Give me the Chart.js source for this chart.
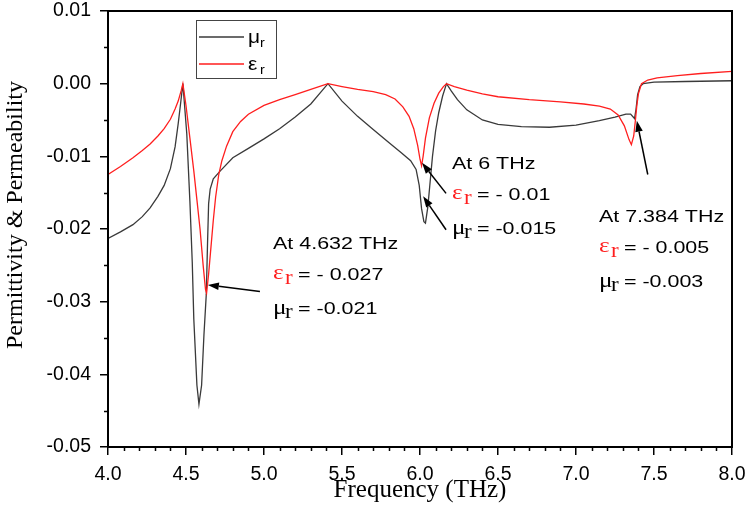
<!DOCTYPE html>
<html>
<head>
<meta charset="utf-8">
<script src="https://cdn.jsdelivr.net/npm/chart.js@4.4.1/dist/chart.umd.min.js"></script>
<style>
  body { margin: 0; background: #fff; }
  #wrap { width: 749px; height: 511px; position: relative; }
</style>
</head>
<body>
<div id="wrap"><canvas id="permChart"></canvas></div>
<script>
// mu_r (black)
var muFreq = [4.00, 4.08, 4.16, 4.22, 4.27, 4.32, 4.36, 4.40, 4.43, 4.45, 4.465, 4.48,
              4.505, 4.525, 4.54, 4.55, 4.57, 4.583, 4.60, 4.615, 4.63, 4.638, 4.645, 4.655, 4.675,
              4.72, 4.80, 4.90, 5.00, 5.10, 5.20, 5.30, 5.41,
              5.50, 5.60, 5.70, 5.80, 5.88, 5.94, 5.975, 5.995, 6.01, 6.025, 6.035, 6.05, 6.065, 6.08, 6.10, 6.12, 6.145, 6.17,
              6.20, 6.24, 6.30, 6.40, 6.50, 6.65, 6.83, 7.00, 7.15, 7.25, 7.32, 7.35, 7.375, 7.385, 7.395, 7.41, 7.43,
              7.50, 7.70, 8.00];
var muVals = [-0.0213, -0.0204, -0.0194, -0.0183, -0.0171, -0.0155, -0.0140, -0.0117, -0.0087, -0.0055, -0.0028, 0.0000,
              -0.0069, -0.0162, -0.0245, -0.0324, -0.0415, -0.0441, -0.0415, -0.0346, -0.0290, -0.0220, -0.0165, -0.0145, -0.0131,
              -0.0120, -0.0102, -0.0089, -0.0076, -0.0062, -0.0046, -0.0028, 0.0000,
              -0.0024, -0.0045, -0.0063, -0.0081, -0.0095, -0.0106, -0.0118, -0.0140, -0.0172, -0.0190, -0.0192, -0.0170, -0.0135, -0.0100, -0.0065, -0.0040, -0.0017, 0.0000,
              -0.0010, -0.0022, -0.0036, -0.0050, -0.0056, -0.0059, -0.0060, -0.0057, -0.0051, -0.0046, -0.0042, -0.0042, -0.0048, -0.0035, -0.0015, -0.0004, 0.0000,
              0.0002, 0.0003, 0.0004];

// eps_r (red)
var epsFreq = [4.00, 4.08, 4.16, 4.22, 4.27, 4.32, 4.36, 4.40, 4.43, 4.45, 4.47, 4.48,
               4.50, 4.525, 4.55, 4.57, 4.59, 4.61, 4.625, 4.632, 4.645, 4.66, 4.675, 4.69, 4.71, 4.73, 4.76, 4.80, 4.85, 4.90,
               5.00, 5.10, 5.20, 5.30, 5.41,
               5.50, 5.60, 5.70, 5.78, 5.84, 5.89, 5.93, 5.96, 5.985, 6.00, 6.01, 6.02, 6.035, 6.06, 6.09, 6.12, 6.15, 6.17,
               6.22, 6.30, 6.40, 6.50, 6.70, 6.90, 7.05, 7.15, 7.22, 7.27, 7.31, 7.34, 7.355, 7.37, 7.38, 7.39, 7.40, 7.42,
               7.46, 7.52, 7.65, 7.80, 8.00];
var epsVals = [-0.0125, -0.0114, -0.0102, -0.0092, -0.0083, -0.0072, -0.0062, -0.0049, -0.0035, -0.0024, -0.0009, 0.0000,
               -0.0030, -0.0075, -0.0120, -0.0160, -0.0200, -0.0250, -0.0283, -0.0288, -0.0262, -0.0225, -0.0188, -0.0156, -0.0125, -0.0106, -0.0086, -0.0066, -0.0052, -0.0042,
               -0.0030, -0.0022, -0.0015, -0.0008, 0.0000,
               -0.0004, -0.0008, -0.0011, -0.0015, -0.0021, -0.0032, -0.0045, -0.0062, -0.0085, -0.0104, -0.0113, -0.0100, -0.0075, -0.0047, -0.0027, -0.0013, -0.0004, 0.0000,
               -0.0004, -0.0009, -0.0014, -0.0018, -0.0022, -0.0025, -0.0028, -0.0031, -0.0035, -0.0043, -0.0058, -0.0077, -0.0084, -0.0072, -0.0052, -0.0030, -0.0014, 0.0000,
               0.0005, 0.0008, 0.0011, 0.0014, 0.0017];

// text callouts, anchored in data units (left edge, first baseline)
var notes = [
  {x: 5.058, y: -0.0228, title: 'At 4.632 THz', eps: '= - 0.027', mu: '= -0.021'},
  {x: 6.205, y: -0.0118, title: 'At 6 THz', eps: '= - 0.01', mu: '= -0.015'},
  {x: 7.147, y: -0.0190, title: 'At 7.384 THz', eps: '= - 0.005', mu: '= -0.003'}
];
// arrows: tail x, tail y, head x, head y
var arrows = [
  [4.974, -0.0286, 4.640, -0.0277],
  [6.167, -0.0151, 6.013, -0.0109],
  [6.167, -0.0201, 6.020, -0.0155],
  [7.460, -0.0125, 7.390, -0.0051]
];

var red = 'rgb(255, 30, 30)';
var sans = '"Liberation Sans", Arial, sans-serif';
var serif = '"Liberation Serif", "Times New Roman", serif';

function pairs(xs, ys) {
  var out = [];
  for (var i = 0; i < xs.length; i++) out.push({x: xs[i], y: ys[i]});
  return out;
}

function stretchText(ctx, str, x, y, font, color, sx) {
  ctx.save();
  ctx.translate(x, y);
  ctx.scale(sx, 1);
  ctx.font = font;
  ctx.fillStyle = color;
  ctx.textAlign = 'left';
  ctx.textBaseline = 'alphabetic';
  ctx.fillText(str, 0, 0);
  ctx.restore();
}

var extras = {
  id: 'extras',
  afterDraw: function(chart) {
    var ctx = chart.ctx;
    var a = chart.chartArea;
    var xs = chart.scales.x, ys = chart.scales.y;
    ctx.save();

    // frame
    ctx.strokeStyle = '#000';
    ctx.lineWidth = 2;
    ctx.strokeRect(a.left, a.top, a.right - a.left, a.bottom - a.top);

    // minor ticks
    ctx.lineWidth = 1.5;
    ctx.beginPath();
    for (var i = 1; i < 40; i++) {
      if (i % 5 === 0) continue;
      var px = Math.round(xs.getPixelForValue(4 + i * 0.1)) + 0.5;
      ctx.moveTo(px, a.bottom);
      ctx.lineTo(px, a.bottom + 4);
    }
    for (var j = 0; j < 6; j++) {
      var py = Math.round(ys.getPixelForValue(-0.045 + j * 0.01)) + 0.5;
      ctx.moveTo(a.left - 4, py);
      ctx.lineTo(a.left, py);
    }
    ctx.stroke();

    // y title
    ctx.save();
    ctx.translate(22, (a.top + a.bottom) / 2 - 14);
    ctx.rotate(-Math.PI / 2);
    ctx.font = '24px ' + serif;
    ctx.fillStyle = '#000';
    ctx.textAlign = 'center';
    ctx.textBaseline = 'alphabetic';
    ctx.fillText('Permittivity & Permeability', 0, 0);
    ctx.restore();

    // legend box
    var lx = a.left + 88, ly = a.top + 9;
    ctx.strokeStyle = '#444';
    ctx.lineWidth = 1;
    ctx.strokeRect(lx + 0.5, ly + 0.5, 80, 58);
    chart.data.datasets.forEach(function(ds, k) {
      var yy = ly + 17 + k * 27;
      ctx.strokeStyle = ds.borderColor;
      ctx.lineWidth = 1.4;
      ctx.beginPath();
      ctx.moveTo(lx + 3, yy);
      ctx.lineTo(lx + 48, yy);
      ctx.stroke();
      stretchText(ctx, ds.label.charAt(0), lx + 52, yy + 6, '19px ' + sans, '#000', 1.1);
      stretchText(ctx, ds.label.slice(1), lx + 64, yy + 10, '13px ' + sans, '#000', 1.1);
    });

    // arrows
    ctx.strokeStyle = '#000';
    ctx.fillStyle = '#000';
    ctx.lineWidth = 1.5;
    arrows.forEach(function(ar) {
      var x1 = xs.getPixelForValue(ar[0]), y1 = ys.getPixelForValue(ar[1]);
      var x2 = xs.getPixelForValue(ar[2]), y2 = ys.getPixelForValue(ar[3]);
      var ang = Math.atan2(y2 - y1, x2 - x1);
      var len = 11, half = 3.8;
      var bx = x2 - len * Math.cos(ang), by = y2 - len * Math.sin(ang);
      ctx.beginPath();
      ctx.moveTo(x1, y1);
      ctx.lineTo(bx, by);
      ctx.stroke();
      ctx.beginPath();
      ctx.moveTo(x2, y2);
      ctx.lineTo(bx + half * Math.sin(ang), by - half * Math.cos(ang));
      ctx.lineTo(bx - half * Math.sin(ang), by + half * Math.cos(ang));
      ctx.closePath();
      ctx.fill();
    });

    // callout text
    notes.forEach(function(n) {
      var x0 = xs.getPixelForValue(n.x), y0 = ys.getPixelForValue(n.y);
      stretchText(ctx, n.title, x0, y0, '16.5px ' + sans, '#000', 1.3);
      var y1 = y0 + 31;
      stretchText(ctx, '\u03b5', x0, y1 - 1, '22px ' + serif, red, 1.15);
      stretchText(ctx, 'r', x0 + 12, y1 + 4, '20px ' + serif, red, 1.15);
      stretchText(ctx, n.eps, x0 + 25, y1, '16.5px ' + sans, '#000', 1.3);
      var y2 = y0 + 65;
      stretchText(ctx, '\u03bc', x0, y2, '22px ' + serif, '#000', 1.15);
      stretchText(ctx, 'r', x0 + 12, y2 + 4, '20px ' + serif, '#000', 1.15);
      stretchText(ctx, n.mu, x0 + 25, y2, '16.5px ' + sans, '#000', 1.3);
    });

    ctx.restore();
  }
};

var ctx = document.getElementById('permChart').getContext('2d');
var myChart = new Chart(ctx, {
  type: 'line',
  data: {
    datasets: [{
      label: '\u03bcr',
      data: pairs(muFreq, muVals),
      borderColor: '#3a3a3a',
      borderWidth: 1.3,
      pointRadius: 0,
      tension: 0,
      order: 2
    }, {
      label: '\u03b5r',
      data: pairs(epsFreq, epsVals),
      borderColor: red,
      borderWidth: 1.3,
      pointRadius: 0,
      tension: 0,
      order: 1
    }]
  },
  options: {
    responsive: true,
    maintainAspectRatio: false,
    animation: false,
    events: [],
    layout: { padding: { top: 0, right: 17, left: 0, bottom: 0 } },
    plugins: {
      legend: { display: false },
      tooltip: { enabled: false }
    },
    scales: {
      x: {
        type: 'linear',
        min: 4,
        max: 8,
        border: { display: false },
        grid: { drawOnChartArea: false, drawTicks: true, tickLength: 8, color: '#000', lineWidth: 1.5 },
        ticks: {
          stepSize: 0.5,
          padding: 8,
          color: '#000',
          font: { family: sans, size: 19.5 },
          maxRotation: 0,
          callback: function(v) { return Number(v).toFixed(1); }
        },
        title: {
          display: true,
          text: 'Frequency (THz)',
          color: '#000',
          font: { family: serif, size: 25 },
          padding: { top: 0, bottom: 6 }
        },
        afterFit: function(scale) {
          scale.height = 64;
          scale.paddingLeft = 0;
          scale.paddingRight = 0;
        }
      },
      y: {
        min: -0.05,
        max: 0.01,
        border: { display: false },
        grid: { drawOnChartArea: false, drawTicks: true, tickLength: 8, color: '#000', lineWidth: 1.5 },
        ticks: {
          stepSize: 0.01,
          padding: 9,
          color: '#000',
          font: { family: sans, size: 19.5 },
          callback: function(v) { return Math.abs(v) < 1e-9 ? '0.00' : Number(v).toFixed(2); }
        },
        afterFit: function(scale) {
          scale.width = 108;
          scale.paddingTop = 11;
          scale.paddingBottom = 0;
        }
      }
    }
  },
  plugins: [extras]
});
</script>
</body>
</html>
